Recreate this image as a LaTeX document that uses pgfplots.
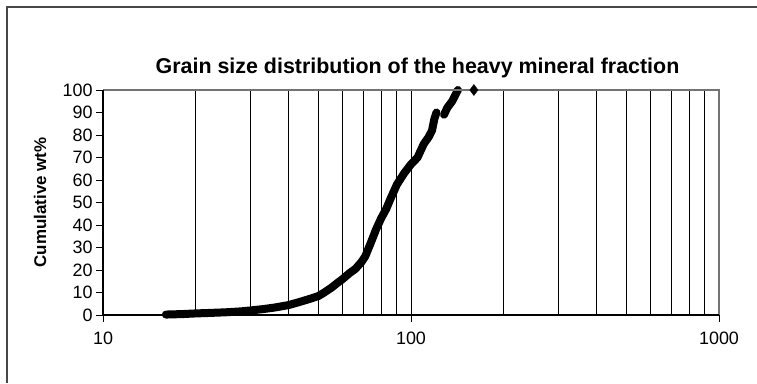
\documentclass[border=0pt]{standalone}
\usepackage{fontspec}
\setmainfont{Liberation Sans}
\usepackage{pgfplots}
\pgfplotsset{compat=1.18}
\begin{document}
\begin{tikzpicture}[x=1bp,y=1bp]
\useasboundingbox (0,0) rectangle (757,383);
\draw[line width=2bp, black!72] (7,0) -- (7,376) -- (757,376);
\begin{axis}[
  at={(103bp,68bp)}, anchor=south west,
  width=616bp, height=225bp, scale only axis,
  xmode=log, xmin=10, xmax=1000, ymin=0, ymax=100,
  xtick={10,100,1000}, xticklabels={10,100,1000},
  minor xtick={20,30,40,50,60,70,80,90,200,300,400,500,600,700,800,900},
  ytick={0,10,...,100},
  xtick pos=bottom, ytick pos=left,
  xmajorgrids, xminorgrids,
  major grid style={black, line width=0.9bp},
  minor grid style={black, line width=0.9bp},
  tick align=outside, major tick length=7bp, minor tick length=0pt,
  tick style={black, line width=0.9bp},
  axis line style={draw=none},
  ticklabel style={font=\fontsize{18}{21}\selectfont},
  xticklabel style={yshift=-6bp},
  /pgf/number format/assume math mode=true,
  clip=false,
]
\addplot[black, line width=8bp, line cap=round, line join=round] coordinates {
(16,0.2) (18,0.4) (20,0.7) (22,0.9) (25,1.2) (28,1.6) (30,2.0) (33,2.6)
(36,3.3) (40,4.4) (43,5.6) (46,6.8) (48,7.6) (50,8.4) (52,9.8) (55,12)
(58,14.5) (60,16) (63,18.5) (66,20.5) (69,23.5) (71,26) (74,32) (77,38)
(80,43) (83,47) (86,52) (90,58) (95,63) (100,67) (105,70) (110,76)
(114,79) (117,82) (119,87) (121,90)
};
\addplot[black, line width=8bp, line cap=round, line join=round] coordinates {
(128,89) (131,92) (136,95) (142,100)
};
\addplot[only marks, mark=diamond*, mark size=5.5bp, black] coordinates {
(160,100)
};
\draw[black!55, line width=1.3bp] (rel axis cs:0,1) -- (rel axis cs:1,1) -- (rel axis cs:1,0);
\draw[black, line width=1.2bp] (rel axis cs:0,1) -- (rel axis cs:0,0) -- (rel axis cs:1,0);
\end{axis}
\node[font=\bfseries\fontsize{21.5}{24}\selectfont] at (417.5,315) {Grain size distribution of the heavy mineral fraction};
\node[font=\bfseries\fontsize{17}{20}\selectfont, rotate=90] at (40,180.5) {Cumulative wt\%};
\end{tikzpicture}
\end{document}
